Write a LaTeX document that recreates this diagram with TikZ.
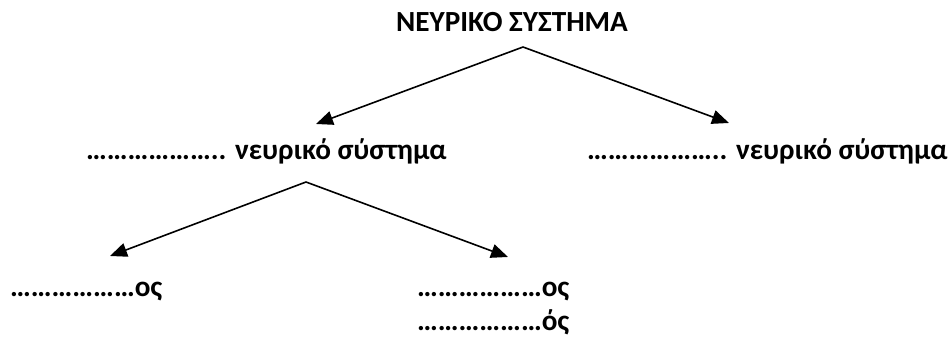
\documentclass[tikz,border=0pt]{standalone}
\usepackage{fontspec}
\setmainfont{Carlito}
\usetikzlibrary{arrows.meta}

\begin{document}
\begin{tikzpicture} [x=1pt, y=1pt, font=\fontsize{29.2}{35}\selectfont\bfseries]
\useasboundingbox (0,0) rectangle (948,337);
\tikzset{lbl/.style={inner sep=0, anchor=base west}}
\node[inner sep=0, anchor=base] (title) at (512,305) {ΝΕΥΡΙΚΟ ΣΥΣΤΗΜΑ};
\node[lbl] (central) at (86,177) {……………….. νευρικό σύστημα};
\node[lbl] (periph) at (587,177) {……………….. νευρικό σύστημα};
\node[lbl] (brainL) at (10,40) {………………ος};
\node[lbl] (brainR) at (417,40) {………………ος};
\node[lbl] (cordR) at (417,6) {………………ός};
\coordinate (top) at (523,290);
\coordinate (mid) at (306,155);
\coordinate (tipA) at (316,213);
\coordinate (tipB) at (729,214);
\coordinate (tipC) at (110,81);
\coordinate (tipD) at (508,80);
\foreach \s/\e in {top/tipA, top/tipB, mid/tipC, mid/tipD}
 \draw[black, line width=1.6pt, -{Triangle[length=17pt, width=14pt]}] (\s) -- (\e);
\end{tikzpicture}
\end{document}
